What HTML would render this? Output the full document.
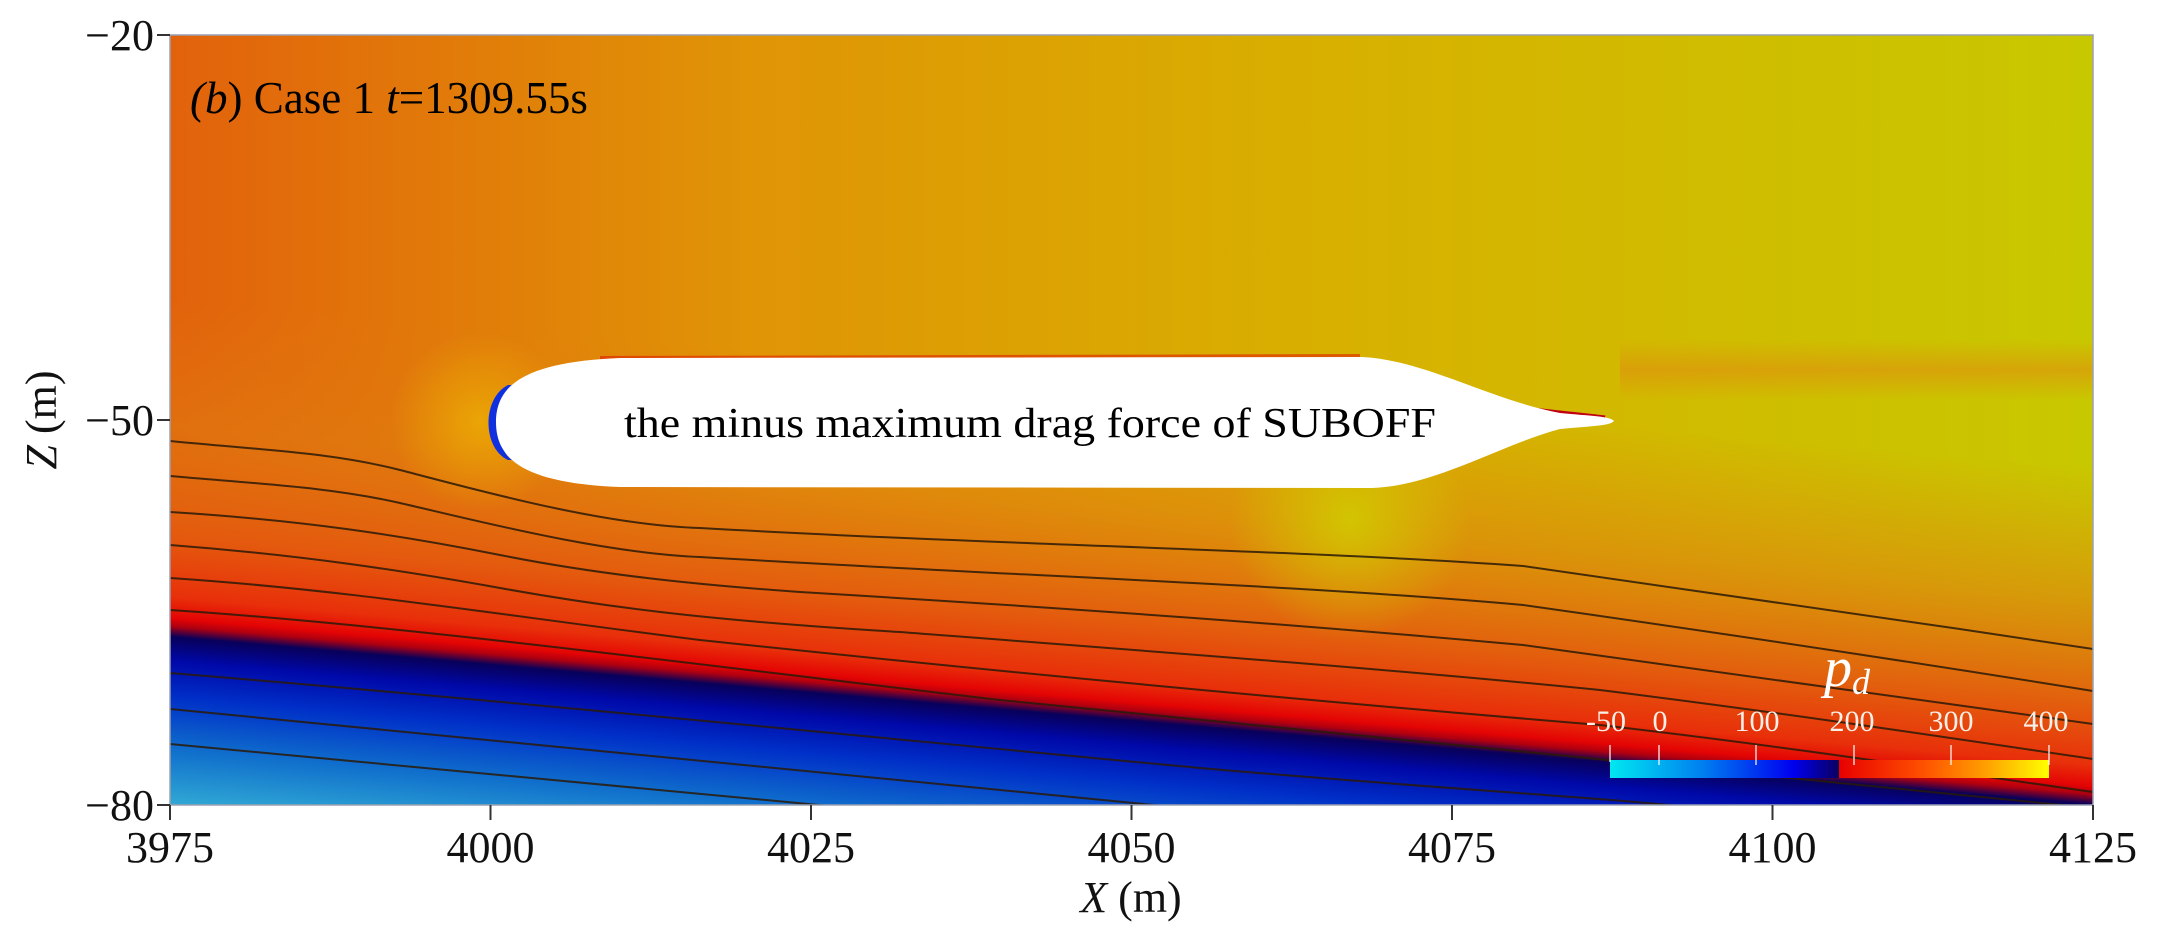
<!DOCTYPE html>
<html><head><meta charset="utf-8"><style>
html,body{margin:0;padding:0;background:#fff;}
svg{display:block;}
text{font-family:"Liberation Serif",serif;}
</style></head><body>
<svg width="2160" height="929" viewBox="0 0 2160 929" xmlns="http://www.w3.org/2000/svg">
<defs>
<linearGradient id="base" x1="170" y1="0" x2="2093" y2="0" gradientUnits="userSpaceOnUse">
<stop offset="0" stop-color="#e2620c"/>
<stop offset="0.3" stop-color="#e09406"/>
<stop offset="0.6" stop-color="#d8b000"/>
<stop offset="1" stop-color="#c8c800"/>
</linearGradient>
<linearGradient id="low" x1="0" y1="300" x2="0" y2="830" gradientUnits="userSpaceOnUse" gradientTransform="rotate(5 170 630)">
<stop offset="0" stop-color="#e07a10" stop-opacity="0"/>
<stop offset="0.24" stop-color="#e07a10" stop-opacity="0.55"/>
<stop offset="0.45" stop-color="#e4580e" stop-opacity="0.95"/>
<stop offset="0.56" stop-color="#e8300a"/>
<stop offset="0.6" stop-color="#e40404"/>
<stop offset="0.615" stop-color="#b00010"/>
<stop offset="0.635" stop-color="#08005a"/>
<stop offset="0.68" stop-color="#0008a8"/>
<stop offset="0.75" stop-color="#0030c8"/>
<stop offset="0.85" stop-color="#1070cc"/>
<stop offset="0.95" stop-color="#30a8d4"/>
<stop offset="1" stop-color="#40b8d8"/>
</linearGradient>
<linearGradient id="wake" x1="0" y1="340" x2="0" y2="400" gradientUnits="userSpaceOnUse">
<stop offset="0" stop-color="#e08a10" stop-opacity="0"/>
<stop offset="0.5" stop-color="#e08a10" stop-opacity="0.55"/>
<stop offset="1" stop-color="#e08a10" stop-opacity="0"/>
</linearGradient>
<radialGradient id="glow" cx="1350" cy="520" r="120" gradientUnits="userSpaceOnUse">
<stop offset="0" stop-color="#d0d000" stop-opacity="0.8"/>
<stop offset="1" stop-color="#d0d000" stop-opacity="0"/>
</radialGradient>
<radialGradient id="noseglow" cx="480" cy="422" r="90" gradientUnits="userSpaceOnUse">
<stop offset="0" stop-color="#f0c000" stop-opacity="0.6"/>
<stop offset="1" stop-color="#f0c000" stop-opacity="0"/>
</radialGradient>
<linearGradient id="cb1" x1="0" y1="0" x2="1" y2="0">
<stop offset="0" stop-color="#00e8f0"/>
<stop offset="0.4" stop-color="#0080f0"/>
<stop offset="0.8" stop-color="#0000f0"/>
<stop offset="1" stop-color="#0a0060"/>
</linearGradient>
<linearGradient id="cb2" x1="0" y1="0" x2="1" y2="0">
<stop offset="0" stop-color="#e80000"/>
<stop offset="0.4" stop-color="#ff5000"/>
<stop offset="0.7" stop-color="#ffa000"/>
<stop offset="1" stop-color="#ffff00"/>
</linearGradient>
<clipPath id="clip"><rect x="170" y="35" width="1923" height="770"/></clipPath>
</defs>
<g clip-path="url(#clip)">
<rect x="170" y="35" width="1923" height="770" fill="url(#base)"/>
<rect x="1620" y="340" width="480" height="60" fill="url(#wake)"/>
<rect x="170" y="35" width="1923" height="770" fill="url(#low)"/>
<circle cx="1350" cy="520" r="120" fill="url(#glow)"/>
<circle cx="480" cy="422" r="90" fill="url(#noseglow)"/>
<g fill="none" stroke="#2a1a08" stroke-width="2" stroke-opacity="0.85">
<path d="M170 441 C260 450,330 452,400 470 S600 525,700 528 C1000 545,1300 550,1523 566 C1700 590,1900 620,2093 649"/>
<path d="M170 476 C260 484,330 487,400 503 S600 553,700 557 C1000 575,1300 585,1523 605 C1700 630,1900 660,2093 691"/>
<path d="M170 512 C300 520,400 535,500 555 S700 585,800 592 C1100 610,1300 625,1523 645 C1700 670,1900 697,2093 724"/>
<path d="M170 545 C300 555,400 570,500 588 S700 620,900 632 C1200 655,1400 670,1600 690 C1800 715,1950 738,2093 759"/>
<path d="M170 578 C350 590,500 615,700 640 C1000 672,1300 700,1600 725 C1800 748,1950 772,2093 792"/>
<path d="M170 610 C400 625,700 665,1000 700 C1300 730,1600 760,2093 808"/>
<path d="M170 673 C500 700,900 740,1200 768 C1450 790,1650 800,1731 812"/>
<path d="M170 709 C450 735,800 770,1205 810"/>
<path d="M170 744 C400 765,650 790,872 810"/>
</g>
<path d="M508 385 C482 398,482 448,508 460 L512 460 C494 448,494 398,512 385 Z" fill="#1030e0"/>
<path d="M1440 392 C1500 410,1560 412,1605 418" fill="none" stroke="#c00010" stroke-width="5"/>
<path d="M600 358 L1360 356" fill="none" stroke="#e02000" stroke-width="4" stroke-opacity="0.6"/>
<path d="M496 422 C496 385,525 362,620 358 L1362 357 C1425 360,1490 400,1560 413 C1590 416,1610 416,1614 421 C1610 426,1590 426,1560 429 C1500 445,1435 486,1372 488 L620 487 C525 483,496 460,496 422 Z" fill="#fff"/>
<rect x="1610" y="760" width="229" height="18" fill="url(#cb1)"/>
<rect x="1839" y="760" width="210" height="18" fill="url(#cb2)"/>
</g>
<rect x="170" y="35" width="1923" height="770" fill="none" stroke="#9aa0b0" stroke-width="1.5"/>
<g stroke="#fff" stroke-width="1.5" stroke-opacity="0.8">
<line x1="1610" y1="745" x2="1610" y2="762"/><line x1="1659" y1="745" x2="1659" y2="765"/>
<line x1="1756" y1="745" x2="1756" y2="765"/><line x1="1854" y1="745" x2="1854" y2="765"/>
<line x1="1951" y1="745" x2="1951" y2="765"/><line x1="2049" y1="745" x2="2049" y2="765"/>
</g>
<g fill="#f8f0e8" font-size="30" text-anchor="middle">
<text x="1606" y="731">-50</text><text x="1660" y="731">0</text><text x="1757" y="731">100</text>
<text x="1852" y="731">200</text><text x="1951" y="731">300</text><text x="2046" y="731">400</text>
</g>
<text x="1824" y="686" fill="#fff" font-size="56" font-style="italic">p<tspan font-size="36" dy="8">d</tspan></text>
<text x="190" y="113" font-size="45" fill="#000"><tspan font-style="italic">(b</tspan>) Case 1 <tspan font-style="italic">t</tspan>=1309.55s</text>
<text x="1030" y="437" font-size="42" fill="#000" text-anchor="middle" textLength="812" lengthAdjust="spacingAndGlyphs">the minus maximum drag force of SUBOFF</text>
<g stroke="#333" stroke-width="2">
<line x1="170" y1="805" x2="170" y2="820"/><line x1="490.5" y1="805" x2="490.5" y2="820"/>
<line x1="811" y1="805" x2="811" y2="820"/><line x1="1131.5" y1="805" x2="1131.5" y2="820"/>
<line x1="1452" y1="805" x2="1452" y2="820"/><line x1="1772.5" y1="805" x2="1772.5" y2="820"/>
<line x1="2093" y1="805" x2="2093" y2="820"/>
<line x1="157" y1="35" x2="170" y2="35"/><line x1="157" y1="420" x2="170" y2="420"/><line x1="157" y1="805" x2="170" y2="805"/>
</g>
<g font-size="44" fill="#111" text-anchor="middle">
<text x="170" y="862">3975</text><text x="490.5" y="862">4000</text><text x="811" y="862">4025</text>
<text x="1131.5" y="862">4050</text><text x="1452" y="862">4075</text><text x="1772.5" y="862">4100</text>
<text x="2093" y="862">4125</text>
</g>
<g font-size="44" fill="#111" text-anchor="end">
<text x="154" y="50">−20</text><text x="154" y="435">−50</text><text x="154" y="820">−80</text>
</g>
<text x="1131" y="912" font-size="44" fill="#111" text-anchor="middle"><tspan font-style="italic">X</tspan> (m)</text>
<text transform="translate(56 420) rotate(-90)" font-size="44" fill="#111" text-anchor="middle"><tspan font-style="italic">Z</tspan> (m)</text>
</svg>
</body></html>
